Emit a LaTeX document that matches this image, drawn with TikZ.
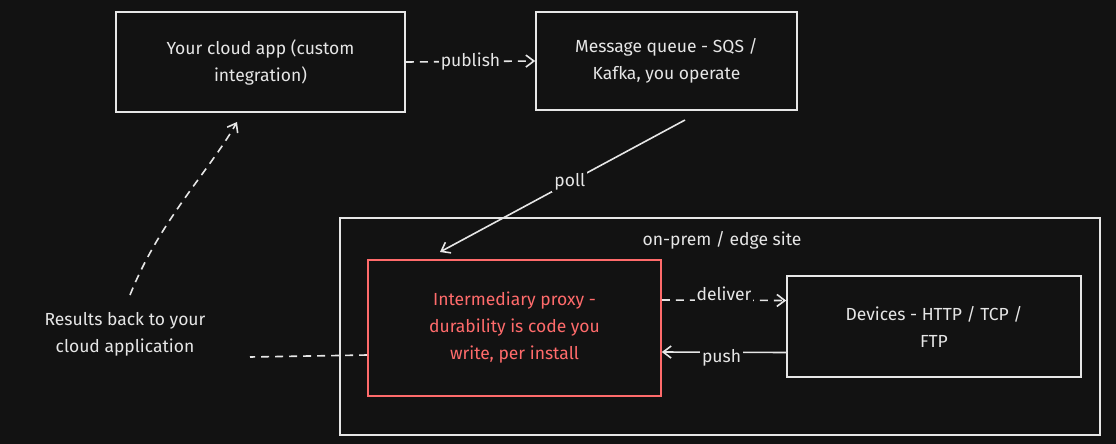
\documentclass[tikz,border=0pt]{standalone}
\usepackage{fontspec}
\setmainfont{Fira Sans}
\usetikzlibrary{arrows.meta}
\definecolor{bg}{HTML}{121212}
\definecolor{fg}{HTML}{E6E6E6}
\definecolor{rd}{HTML}{FF6B6B}
\begin{document}
\begin{tikzpicture}[x=1pt,y=-1pt,
  box/.style={draw=fg,line width=1.6pt,align=center,text=fg,font=\fontsize{17.5}{27}\selectfont,inner sep=0pt},
  lbl/.style={text=fg,font=\fontsize{17.5}{22}\selectfont,fill=bg,inner sep=2pt},
  arr/.style={draw=fg,line width=1.6pt,-{Straight Barb[length=8pt,width=12pt]}}]
\fill[bg] (0,0) rectangle (1116,444);
\useasboundingbox (0,0) rectangle (1116,444);
\node[box,minimum width=289pt,minimum height=100pt] (app) at (260.5,62) {Your cloud app (custom\\integration)};
\node[box,minimum width=261pt,minimum height=98pt] (mq) at (666.5,61) {Message queue - SQS /\\Kafka, you operate};
\node[box,minimum width=760pt,minimum height=217pt] (site) at (720,326.5) {};
\node[text=fg,font=\fontsize{17.5}{22}\selectfont] (sitel) at (722,240) {on-prem / edge site};
\node[box,draw=rd,text=rd,minimum width=293pt,minimum height=136pt] (px) at (514.5,328) {Intermediary proxy -\\durability is code you\\write, per install};
\node[box,minimum width=294pt,minimum height=101pt] (dev) at (934,326.5) {Devices - HTTP / TCP /\\FTP};
\node[text=fg,font=\fontsize{17.5}{27}\selectfont,align=center] (res) at (125,334) {Results back to your\\cloud application};
\coordinate (mqo) at (685,120);
\coordinate (pxi) at (440,252);
\coordinate (rs) at (250,357);
\coordinate (cs) at (130,295);
\coordinate (ce) at (237,122);
\draw[arr,dash pattern=on 8pt off 6pt] (app.east) -- node[lbl]{publish} (mq.west);
\draw[arr] (mqo) -- node[lbl,pos=0.47]{poll} (pxi);
\draw[arr,dash pattern=on 8pt off 6pt] ([yshift=28pt]px.east) -- node[lbl,pos=0.5,yshift=6pt]{deliver} ([yshift=26pt]dev.west);
\draw[arr] ([yshift=-26pt]dev.west) -- node[lbl,pos=0.52,yshift=-6pt]{push} ([yshift=-24pt]px.east);
\draw[fg,line width=1.6pt,dash pattern=on 8pt off 6pt] ([yshift=-27pt]px.west) -- (rs);
\draw[arr,dash pattern=on 8pt off 6pt] (cs) .. controls (160,220) and (210,170) .. (ce);
\end{tikzpicture}
\end{document}
